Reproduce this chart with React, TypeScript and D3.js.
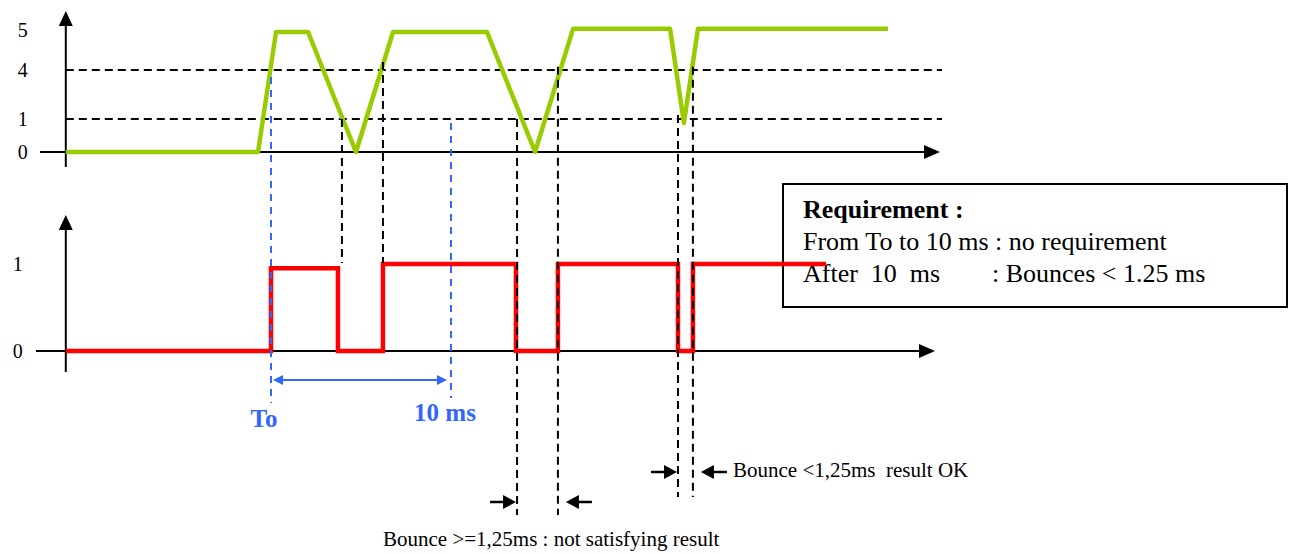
import { useEffect, useRef } from "react"
import * as d3 from "d3"

// time in ms, To = 0
const inputTimes = [-11.4, -0.72, 0.28, 2.06, 4.72, 6.78, 12.0, 14.67, 16.78, 22.17, 22.94, 23.72, 34.28]
const inputVolts = [0, 0, 4.95, 4.95, 0, 4.95, 4.95, 0, 5.03, 5.03, 0.88, 5.03, 5.03]
const voltTicks = [0, 1, 4, 5]
const thresholdVolts = [4, 1]

const outputTimes = [-11.4, 0, 3.72, 6.22, 13.61, 15.94, 22.61, 23.44, 30.83]
const outputStates = [0, 0.95, 0, 1, 0, 1, 0, 1, 1]
const stateTicks = [0, 1]

// edges of the output, with the input level where the guide starts
const edgeTimes = [3.94, 6.22, 13.67, 15.94, 22.61, 23.44]
const edgeStartVolts = [1, 4.2, 1, 4.08, 1.25, 4.08]

const markerTimes = [0, 10]
const markerLabels = ["To", "10 ms"]

const badBounce = [13.67, 15.94]
const okBounce = [22.61, 23.44]
const badLabel = "Bounce >=1,25ms : not satisfying result"
const okLabel = "Bounce <1,25ms  result OK"

const reqTitle = "Requirement :"
const reqLines = ["From To to 10 ms : no requirement", "After  10  ms"]
const reqRule = ": Bounces < 1.25 ms"

const WIDTH = 1303
const HEIGHT = 554
const SERIF = '"Liberation Serif", "Times New Roman", serif'
const GREEN = "#99cc00"
const RED = "#ff0000"
const BLUE = "#3366ff"

export default function App() {
    const svgRef = useRef<SVGSVGElement>(null)

    useEffect(() => {
        const svg = d3.select(svgRef.current)
        svg.selectAll("*").remove()

        //scales
        const x = d3.scaleLinear().domain([0, 10]).range([271, 451])
        const yIn = d3.scaleLinear().domain([0, 1, 4, 5]).range([152, 119, 70, 30])
        const yOut = d3.scaleLinear().domain([0, 1]).range([351, 264])
        const x0 = x(inputTimes[0])

        const head = (px: number, py: number, dir: "up" | "right" | "left", len: number, half: number) => {
            let d = ""
            if (dir === "up") d = `M${px},${py}L${px - half},${py + len}L${px + half},${py + len}Z`
            if (dir === "right") d = `M${px},${py}L${px - len},${py - half}L${px - len},${py + half}Z`
            if (dir === "left") d = `M${px},${py}L${px + len},${py - half}L${px + len},${py + half}Z`
            svg.append("path").attr("d", d).attr("fill", "black")
        }
        const line = (x1: number, y1: number, x2: number, y2: number, color = "black", dash = "", w = 2) => {
            svg.append("line")
                .attr("x1", x1).attr("y1", y1).attr("x2", x2).attr("y2", y2)
                .attr("stroke", color).attr("stroke-width", w)
                .attr("stroke-dasharray", dash || null)
        }

        //axes of the input panel
        line(x0, 167, x0, 24)
        head(x0, 11, "up", 15, 7)
        line(40, yIn(0), 924, yIn(0))
        head(940, yIn(0), "right", 16, 7)
        //axes of the output panel
        line(x0, 372, x0, 228)
        head(x0, 215, "up", 15, 7)
        line(36, yOut(0), 920, yOut(0))
        head(935, yOut(0), "right", 16, 7)

        const tickAxis = (scale: any, values: number[], pad: number) => {
            const g = svg.append("g")
                .attr("transform", `translate(${x0},0)`)
                .call(d3.axisLeft(scale).tickValues(values).tickSize(0).tickPadding(pad).tickFormat(d3.format("d")))
            g.select(".domain").remove()
            g.attr("font-family", SERIF).attr("font-size", 20)
            g.selectAll("text").attr("fill", "black")
        }
        tickAxis(yIn, voltTicks, 38)
        tickAxis(yOut, stateTicks, 43)

        //threshold lines
        thresholdVolts.forEach(v => line(x0, yIn(v), 942, yIn(v), "black", "8,5"))

        //requirement box
        svg.append("rect")
            .attr("x", 783).attr("y", 184).attr("width", 504).attr("height", 123)
            .attr("fill", "none").attr("stroke", "black").attr("stroke-width", 2)
        svg.append("text").attr("x", 803).attr("y", 218)
            .attr("font-family", SERIF).attr("font-size", 26).attr("font-weight", "bold")
            .text(reqTitle)
        reqLines.forEach((t, i) => {
            svg.append("text").attr("x", 803).attr("y", 250 + i * 32)
                .attr("font-family", SERIF).attr("font-size", 26)
                .style("white-space", "pre")
                .text(t)
        })
        svg.append("text").attr("x", 992).attr("y", 282)
            .attr("font-family", SERIF).attr("font-size", 26)
            .text(reqRule)

        //signals
        const inPath = d3.line<number>()
            .x((_, i) => x(inputTimes[i]))
            .y(d => yIn(d))
        svg.append("path")
            .attr("d", inPath(inputVolts))
            .attr("fill", "none").attr("stroke", GREEN).attr("stroke-width", 4.5)
            .attr("stroke-linejoin", "round")

        const outPath = d3.line<number>()
            .x((_, i) => x(outputTimes[i]))
            .y(d => yOut(d))
            .curve(d3.curveStepAfter)
        svg.append("path")
            .attr("d", outPath(outputStates))
            .attr("fill", "none").attr("stroke", RED).attr("stroke-width", 4.5)

        //edge guides
        const guideEnds = [263, 263, 515, 515, 497, 497]
        edgeTimes.forEach((t, i) => line(x(t), yIn(edgeStartVolts[i]), x(t), guideEnds[i], "black", "8,5"))

        //To and 10 ms markers
        const markerTops = [77, 123]
        const markerEnds = [403, 398]
        markerTimes.forEach((t, i) => line(x(t), markerTops[i], x(t), markerEnds[i], BLUE, "7,6"))
        const spanY = 380
        line(x(markerTimes[0]) + 8, spanY, x(markerTimes[1]) - 8, spanY, BLUE)
        svg.append("path")
            .attr("d", `M${x(markerTimes[0]) + 2},${spanY}l10,-5l0,10Z M${x(markerTimes[1]) - 4},${spanY}l-10,-5l0,10Z`)
            .attr("fill", BLUE)
        const labelY = [427, 421]
        const labelDx = [-7, -6]
        markerLabels.forEach((l, i) => {
            svg.append("text")
                .attr("x", x(markerTimes[i]) + labelDx[i]).attr("y", labelY[i])
                .attr("text-anchor", "middle")
                .attr("font-family", SERIF).attr("font-size", 25).attr("font-weight", "bold")
                .attr("fill", BLUE)
                .text(l)
        })

        //bounce annotations
        const bounceMark = (pair: number[], y: number) => {
            const a = x(pair[0]), b = x(pair[1])
            line(a - 27, y, a - 12, y, "black", "", 2.5)
            head(a - 1, y, "right", 13, 7)
            line(b + 20, y, b + 34, y, "black", "", 2.5)
            head(b + 8, y, "left", 13, 7)
        }
        bounceMark(badBounce, 502)
        bounceMark(okBounce, 472)
        svg.append("text").attr("x", 383).attr("y", 546)
            .attr("font-family", SERIF).attr("font-size", 21)
            .text(badLabel)
        svg.append("text").attr("x", 733).attr("y", 477)
            .attr("font-family", SERIF).attr("font-size", 21)
            .style("white-space", "pre")
            .text(okLabel)
    }, [])

    return (
        <svg ref={svgRef} width={WIDTH} height={HEIGHT}
            style={{ position: "absolute", left: 0, top: 0, background: "#fff" }}></svg>
    )
}
